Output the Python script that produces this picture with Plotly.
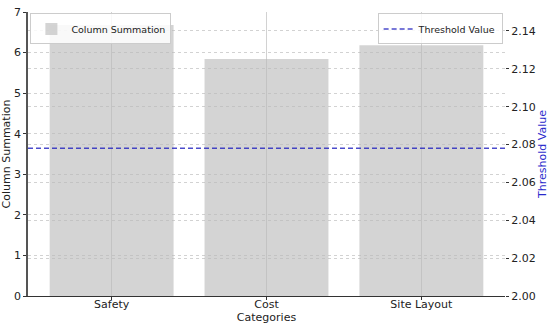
import plotly.graph_objects as go

categories = ["Safety", "Cost", "Site Layout"]
column_summation = [6.68, 5.84, 6.18]
threshold_value = 2.078

grid_col = "rgba(195,195,195,0.75)"
font_fam = "DejaVu Sans, sans-serif"

fig = go.Figure()

# slightly transparent bars so the grid shows through like the original
fig.add_trace(go.Bar(
    x=categories, y=column_summation, name="Column Summation",
    marker=dict(color="rgba(185,185,185,0.62)", line=dict(width=0)),
    width=0.8, legend="legend",
))

# threshold on the secondary axis, spanning the whole plot width
fig.add_shape(
    type="line", xref="paper", x0=0, x1=1, yref="y2",
    y0=threshold_value, y1=threshold_value,
    line=dict(color="rgba(30,30,190,0.8)", width=1.5, dash="5px,3px"),
    name="Threshold Value", showlegend=True, legend="legend2",
)
# invisible trace so the second axis is attached
fig.add_trace(go.Scatter(
    x=categories, y=[threshold_value] * len(categories), yaxis="y2",
    mode="lines", line=dict(width=0), hoverinfo="skip", showlegend=False,
))

fig.update_layout(
    width=550, height=327,
    margin=dict(l=28, r=45, t=12, b=31),
    plot_bgcolor="white", paper_bgcolor="white",
    font=dict(family=font_fam, size=11, color="#222"),
    bargap=0.2,
    xaxis=dict(
        title=dict(text="Categories", standoff=0, font=dict(size=11)),
        range=[-0.54, 2.54], automargin=False,
        showgrid=True, gridcolor=grid_col, gridwidth=1,
        showline=True, linecolor="#333", linewidth=1,
        ticks="outside", ticklen=3, tickcolor="#333",
        ticklabelstandoff=-5,
    ),
    yaxis=dict(
        title=dict(text="Column Summation", standoff=2, font=dict(size=11)),
        range=[0, 7], dtick=1, automargin=False,
        showgrid=True, gridcolor=grid_col, griddash="dot", gridwidth=1,
        showline=True, linecolor="#555", linewidth=1.5,
        ticks="outside", ticklen=3, tickcolor="#333",
        zeroline=False,
    ),
    yaxis2=dict(
        title=dict(text="Threshold Value", standoff=2, font=dict(size=11, color="#2a2acc")),
        overlaying="y", side="right", automargin=False,
        range=[2.0, 2.15], dtick=0.02, tickformat=".2f",
        showgrid=True, gridcolor=grid_col, griddash="dot", gridwidth=1,
        showline=False, ticks="outside", ticklen=3, tickcolor="#333",
        zeroline=False,
    ),
    legend=dict(
        x=0.005, y=0.995, xanchor="left", yanchor="top",
        bgcolor="rgba(255,255,255,0.85)", bordercolor="#ccc", borderwidth=1,
        font=dict(size=9.5), itemwidth=30, tracegroupgap=0,
    ),
    legend2=dict(
        x=0.995, y=0.995, xanchor="right", yanchor="top",
        bgcolor="rgba(255,255,255,0.85)", bordercolor="#ccc", borderwidth=1,
        font=dict(size=9.5), itemwidth=30, tracegroupgap=0,
    ),
)

# drop the default page margin so the figure fills the window
fig.write_html("out.html", config={"displayModeBar": False},
               post_script="document.body.style.margin='0';")
